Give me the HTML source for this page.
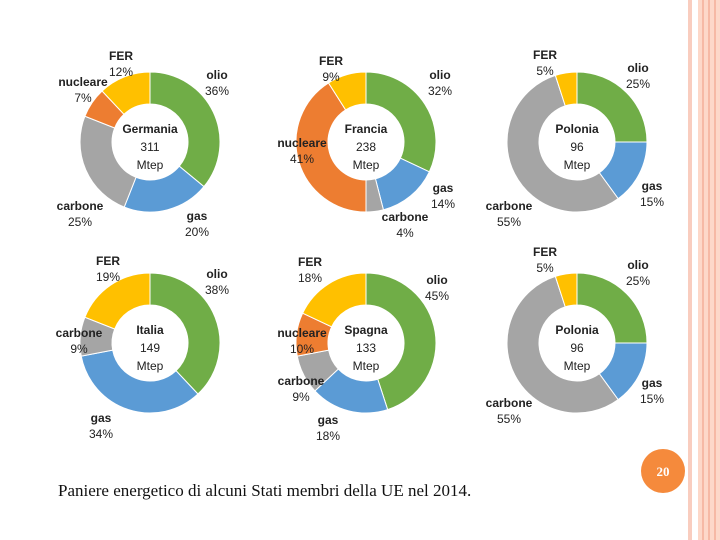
<!DOCTYPE html>
<html><head><meta charset="utf-8"><style>
body{margin:0;width:720px;height:540px;background:#fff;overflow:hidden;font-family:"Liberation Sans",sans-serif}
svg{position:absolute;left:0;top:0}
.lb{font-family:"Liberation Sans",sans-serif;font-size:12px;fill:#222;text-anchor:middle}
.b{font-weight:bold}
</style></head><body>
<svg id="s" width="720" height="540">
<rect x="688" y="0" width="4" height="540" fill="#F9CDBF"/>
<rect x="698" y="0" width="22" height="540" fill="#FDD8C9"/>
<rect x="702" y="0" width="2" height="540" fill="#F6B9A5"/>
<rect x="708" y="0" width="2" height="540" fill="#F6B9A5"/>
<rect x="714" y="0" width="2" height="540" fill="#F6B9A5"/>
<circle cx="663" cy="471" r="22" fill="#F58A3C"/>
<text x="663" y="476" text-anchor="middle" font-family="Liberation Serif,serif" font-weight="bold" font-size="13" fill="#fff">20</text>
<text x="58" y="496" font-family="Liberation Serif,serif" font-size="17" fill="#111">Paniere energetico di alcuni Stati membri della UE nel 2014.</text>
</svg>
<script>
const sources=["olio","gas","carbone","nucleare","FER"];
const colors=["#70AD47","#5B9BD5","#A5A5A5","#ED7D31","#FFC000"];
const countries=["Germania","Francia","Polonia","Italia","Spagna","Polonia"];
const totals=["311","238","96","149","133","96"];
const shareGermania=[36,20,25,7,12];
const shareFrancia=[32,14,4,41,9];
const sharePolonia=[25,15,55,0,5];
const shareItalia=[38,34,9,0,19];
const shareSpagna=[45,18,9,10,18];
const sharePolonia2=[25,15,55,0,5];
const shares=[shareGermania,shareFrancia,sharePolonia,shareItalia,shareSpagna,sharePolonia2];
const centers=[[150,142],[366,142],[577,142],[150,343],[366,343],[577,343]];
// label anchor positions per chart per source (text layout)
const labelPos=[
 [[217,79],[197,220],[80,210],[83,86],[121,60]],
 [[440,79],[443,192],[405,221],[302,147],[331,65]],
 [[638,72],[652,190],[509,210],null,[545,59]],
 [[217,278],[101,422],[79,337],null,[108,265]],
 [[437,284],[328,424],[301,385],[302,337],[310,266]],
 [[638,269],[652,387],[509,407],null,[545,256]]
];
const R=70,r=38;
const svg=document.getElementById('s');
const NS="http://www.w3.org/2000/svg";
function angle(frac){return frac*2*Math.PI-Math.PI/2;}
function pt(cx,cy,rad,a){return [cx+rad*Math.cos(a),cy+rad*Math.sin(a)];}
shares.forEach((vals,ci)=>{
  const [cx,cy]=centers[ci];
  const tot=vals.reduce((a,b)=>a+b,0);
  let acc=0;
  const g=document.createElementNS(NS,'g');
  
  
  svg.appendChild(g);
  vals.forEach((v,i)=>{
    if(v<=0)return;
    const a0=angle(acc/tot),a1=angle((acc+v)/tot);acc+=v;
    const large=(a1-a0)>Math.PI?1:0;
    const p0=pt(cx,cy,R,a0),p1=pt(cx,cy,R,a1),q1=pt(cx,cy,r,a1),q0=pt(cx,cy,r,a0);
    const p=document.createElementNS(NS,'path');
    p.setAttribute('d',`M${p0[0]},${p0[1]}A${R},${R} 0 ${large} 1 ${p1[0]},${p1[1]}L${q1[0]},${q1[1]}A${r},${r} 0 ${large} 0 ${q0[0]},${q0[1]}Z`);
    p.setAttribute('fill',colors[i]);p.setAttribute('stroke','#fff');p.setAttribute('stroke-width','1');
    
    
    g.appendChild(p);
    const lp=labelPos[ci][i];
    if(lp){
      const t1=document.createElementNS(NS,'text');
      t1.setAttribute('x',lp[0]);t1.setAttribute('y',lp[1]);t1.setAttribute('class','lb b');
      t1.textContent=sources[i];
      
      
      g.appendChild(t1);
      const t2=document.createElementNS(NS,'text');
      t2.setAttribute('x',lp[0]);t2.setAttribute('y',lp[1]+16);t2.setAttribute('class','lb');
      t2.textContent=v+'%';
      
      
      g.appendChild(t2);
    }
  });
  const lines=[countries[ci],totals[ci],'Mtep'];
  lines.forEach((s,k)=>{
    const t=document.createElementNS(NS,'text');
    t.setAttribute('x',cx);t.setAttribute('y',cy-9+k*18);
    t.setAttribute('class','lb'+(k===0?' b':''));
    t.textContent=s;
    
    
    g.appendChild(t);
  });
});
</script>
</body></html>
